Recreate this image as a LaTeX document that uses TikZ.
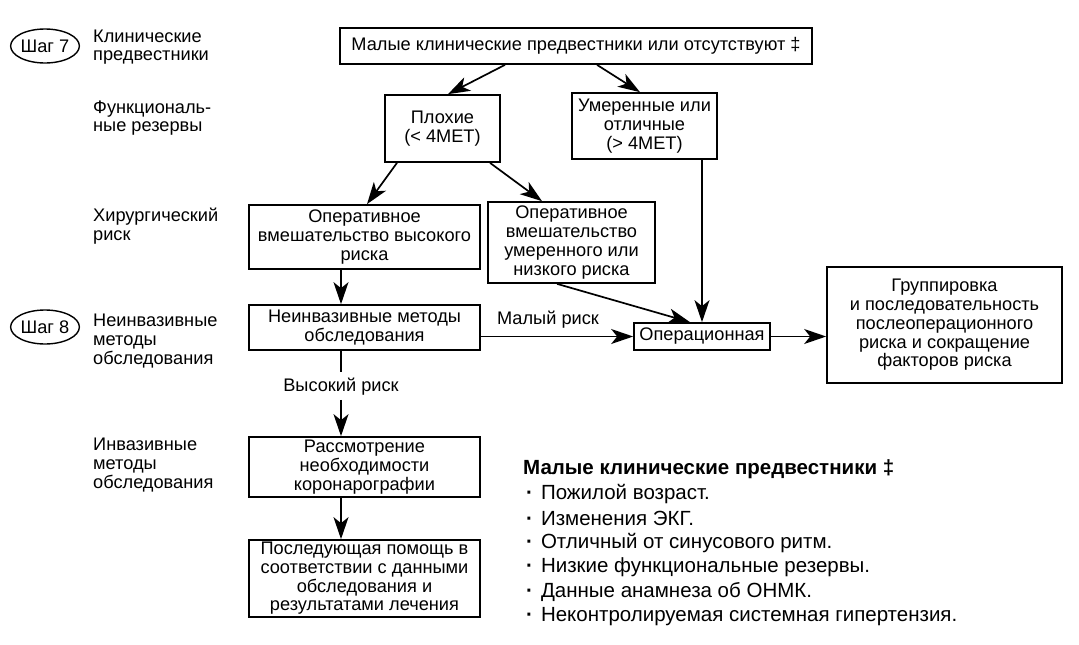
\documentclass[tikz,border=0pt]{standalone}
\usepackage{fontspec}
\setmainfont{Liberation Sans}
\usetikzlibrary{arrows.meta,shapes.geometric,calc}
\begin{document}
\begin{tikzpicture}[x=1pt,y=-1pt,
  every node/.style={font=\fontsize{18.2}{18.7}\selectfont, inner sep=0pt},
  box/.style={draw, line width=1.7pt, align=center, inner sep=0pt},
  lbl/.style={anchor=west, align=left},
  stepel/.style={draw, ellipse, line width=1.4pt, minimum width=68pt, minimum height=34pt, inner sep=0pt},
  arr/.style={line width=1.7pt, -{Stealth[length=22pt,width=15pt,inset=6pt]}},
  ln/.style={line width=1.7pt},
  leg/.style={anchor=west, font=\fontsize{20.5}{24}\selectfont},
  leghead/.style={anchor=west, font=\fontsize{20.5}{24}\selectfont\bfseries}
]
\useasboundingbox (0,0) rectangle (1079,645);

% step ellipses
\node[stepel] (s7) at (45,46) {Шаг 7};
\node[stepel] (s8) at (45,327) {Шаг 8};

% left labels
\node[lbl] (l1) at (93,47) {Клинические\\предвестники};
\node[lbl] (l2) at (93,118) {Функциональ-\\ные резервы};
\node[lbl] (l3) at (93,226) {Хирургический\\риск};
\node[lbl] (l4) at (93,341) {Неинвазивные\\методы\\обследования};
\node[lbl] (l5) at (93,465) {Инвазивные\\методы\\обследования};

% boxes
\node[box, minimum width=472pt, minimum height=36pt] (top) at (576,46) {Малые клинические предвестники или отсутствуют ‡};
\node[box, minimum width=115pt, minimum height=67pt] (poor) at (442.5,128.5) {Плохие\\(< 4МЕТ)};
\node[box, minimum width=145pt, minimum height=66pt] (good) at (644.5,126) {Умеренные или\\отличные\\(> 4МЕТ)};
\node[box, minimum width=231pt, minimum height=64pt] (high) at (364.5,237) {Оперативное\\вмешательство высокого\\риска};
\node[box, minimum width=167pt, minimum height=81pt] (mod) at (571.5,242.5) {Оперативное\\вмешательство\\умеренного или\\низкого риска};
\node[box, minimum width=231pt, minimum height=45pt] (noninv) at (364.5,327.5) {Неинвазивные методы\\обследования};
\node[box, minimum width=136pt, minimum height=27pt] (oper) at (702,336.5) {Операционная};
\node[box, minimum width=235pt, minimum height=116pt] (grp) at (944.5,325) {Группировка\\и последовательность\\послеоперационного\\риска и сокращение\\факторов риска};
\node[box, minimum width=231pt, minimum height=60pt] (rass) at (364.5,467) {Рассмотрение\\необходимости\\коронарографии};
\node[box, minimum width=231pt, minimum height=77pt] (posl) at (364.5,578.5) {Последующая помощь в\\соответствии с данными\\обследования и\\результатами лечения};

% edge labels
\node (lowrisk) at (548,320) {Малый риск};
\node (hr) at (341,387) {Высокий риск};

% connectors
\draw[arr] ([xshift=-71pt]top.south) -- ([xshift=5.5pt]poor.north);
\draw[arr] ([xshift=21pt]top.south) -- ([xshift=-4.5pt]good.north);
\draw[arr] ([xshift=-45.5pt]poor.south) -- ([xshift=2.5pt]high.north);
\draw[arr] ([xshift=47.5pt]poor.south) -- ([xshift=-29.5pt]mod.north);
\draw[arr] ([xshift=-23.5pt]high.south) -- ([xshift=-23.5pt]noninv.north);
\draw[arr] ([xshift=57.5pt]good.south) -- (oper.north);
\draw[arr] ([xshift=-14.5pt]mod.south) -- ([xshift=-12pt]oper.north);
\draw[arr] (noninv.east |- oper.west) -- (oper.west);
\draw[arr] (oper.east) -- (oper.east -| grp.west);
\draw[ln] ([xshift=-23.5pt]noninv.south) -- ([yshift=6pt]hr.north);
\draw[arr] ([yshift=-4pt]hr.south) -- ([xshift=-23.5pt]rass.north);
\draw[arr] ([xshift=-23.5pt]rass.south) -- ([xshift=-23.5pt]posl.north);

% legend
\node[leghead] (lh) at (523,469) {Малые клинические предвестники ‡};
\node[leg] (i1) at (526,494) {{\bfseries·}\hspace{8pt}Пожилой возраст.};
\node[leg] (i2) at (526,518.5) {{\bfseries·}\hspace{8pt}Изменения ЭКГ.};
\node[leg] (i3) at (526,543) {{\bfseries·}\hspace{8pt}Отличный от синусового ритм.};
\node[leg] (i4) at (526,567.5) {{\bfseries·}\hspace{8pt}Низкие функциональные резервы.};
\node[leg] (i5) at (526,592) {{\bfseries·}\hspace{8pt}Данные анамнеза об ОНМК.};
\node[leg] (i6) at (526,616.5) {{\bfseries·}\hspace{8pt}Неконтролируемая системная гипертензия.};
\end{tikzpicture}
\end{document}
